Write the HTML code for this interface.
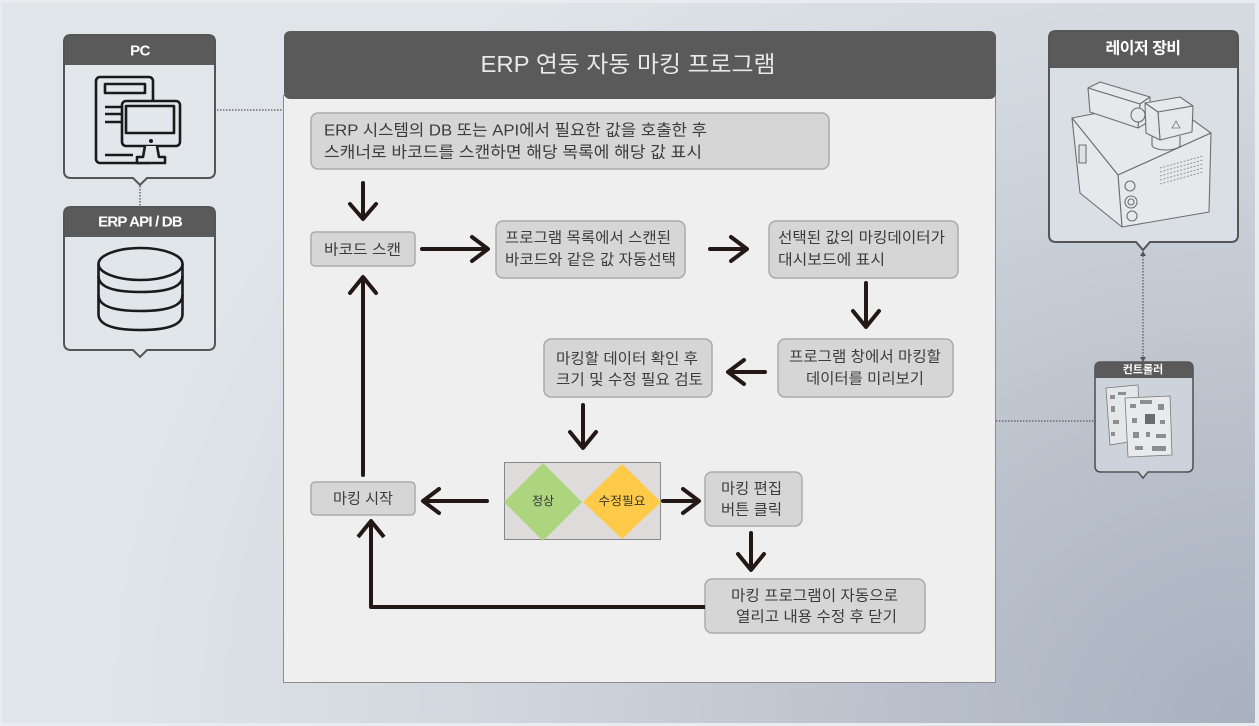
<!DOCTYPE html>
<html><head><meta charset="utf-8">
<style>
html,body{margin:0;padding:0;}
body{width:1259px;height:726px;position:relative;overflow:hidden;background:#e9ecef;}
#bg{position:absolute;left:2px;top:3px;width:1253px;height:720px;
background:radial-gradient(ellipse 1150px 950px at 100% 100%, #a8b1bf 0%, #b9c0cb 30%, #d0d6dd 65%, #dfe5e9 100%);}
svg{position:absolute;left:0;top:0;}
text{font-family:"Liberation Sans","Noto Sans CJK KR",sans-serif;}
</style></head>
<body>
<div id="bg"></div>
<svg width="1259" height="726" viewBox="0 0 1259 726" xmlns="http://www.w3.org/2000/svg">
<!-- dotted connectors -->
<g stroke="#6a6a6a" stroke-width="1.5" stroke-dasharray="1.5 1.5" fill="none">
  <line x1="217" y1="110" x2="283" y2="110"/>
  <line x1="140" y1="186" x2="140" y2="207"/>
  <line x1="1143" y1="253" x2="1143" y2="360"/>
  <line x1="996" y1="421" x2="1095" y2="421"/>
</g>
<path d="M1140,256 L1143,251 L1146,256 Z M1140,357 L1143,362 L1146,357 Z" fill="#555"/>

<!-- PC card -->
<path d="M71,35 H208 Q215,35 215,42 V171 Q215,178 208,178 H147 L140,185 L133,178 H71 Q64,178 64,171 V42 Q64,35 71,35 Z" fill="#e1e7eb"/>
<path d="M64,42 Q64,35 71,35 H208 Q215,35 215,42 V65 H64 Z" fill="#5a5a5a"/>
<path d="M71,35 H208 Q215,35 215,42 V171 Q215,178 208,178 H147 L140,185 L133,178 H71 Q64,178 64,171 V42 Q64,35 71,35 Z" fill="none" stroke="#555" stroke-width="2"/>
<text x="140" y="51" text-anchor="middle" dominant-baseline="central" font-size="15" font-weight="bold" fill="#fff" letter-spacing="-0.5">PC</text>
<!-- PC icon -->
<g stroke="#1a1a1a" stroke-width="2.6" fill="none" stroke-linejoin="round">
  <rect x="96" y="77" width="57" height="86" rx="4"/>
  <rect x="105" y="84" width="40" height="9"/>
  <line x1="105" y1="107" x2="122" y2="107"/>
  <line x1="105" y1="114" x2="122" y2="114"/>
  <line x1="105" y1="122" x2="122" y2="122"/>
  <line x1="105" y1="155" x2="133" y2="155"/>
  <rect x="122" y="101" width="58" height="45" rx="4" fill="#e1e7eb"/>
  <rect x="126" y="106" width="48" height="27"/>
  <path d="M145,146 L143,157 L137,157 L137,163 L165,163 L165,157 L159,157 L157,146" fill="#e1e7eb"/>
</g>
<circle cx="151" cy="141" r="2" fill="#1a1a1a"/>

<!-- ERP API / DB card -->
<path d="M71,207 H208 Q215,207 215,214 V343 Q215,350 208,350 H147 L140,357 L133,350 H71 Q64,350 64,343 V214 Q64,207 71,207 Z" fill="#e0e6ea"/>
<path d="M64,214 Q64,207 71,207 H208 Q215,207 215,214 V237 H64 Z" fill="#5a5a5a"/>
<path d="M71,207 H208 Q215,207 215,214 V343 Q215,350 208,350 H147 L140,357 L133,350 H71 Q64,350 64,343 V214 Q64,207 71,207 Z" fill="none" stroke="#555" stroke-width="2"/>
<text x="140" y="222" text-anchor="middle" dominant-baseline="central" font-size="15" font-weight="bold" fill="#fff" letter-spacing="-0.8">ERP API / DB</text>
<!-- DB icon -->
<g stroke="#1a1a1a" stroke-width="2.6" fill="none">
  <ellipse cx="140.5" cy="264" rx="42" ry="16"/>
  <path d="M98.5,264 V314 Q98.5,330 140.5,330 Q182.5,330 182.5,314 V264"/>
  <path d="M98.5,276 Q98.5,292 140.5,292 Q182.5,292 182.5,276"/>
  <path d="M98.5,295 Q98.5,311 140.5,311 Q182.5,311 182.5,295"/>
</g>

<!-- Laser card -->
<path d="M1056,31 H1231 Q1238,31 1238,38 V235 Q1238,242 1231,242 H1150 L1143,250 L1136,242 H1056 Q1049,242 1049,235 V38 Q1049,31 1056,31 Z" fill="#d9dfe4"/>
<path d="M1049,38 Q1049,31 1056,31 H1231 Q1238,31 1238,38 V68 H1049 Z" fill="#5a5a5a"/>
<path d="M1056,31 H1231 Q1238,31 1238,38 V235 Q1238,242 1231,242 H1150 L1143,250 L1136,242 H1056 Q1049,242 1049,235 V38 Q1049,31 1056,31 Z" fill="none" stroke="#555" stroke-width="2"/>
<text x="1143" y="49" text-anchor="middle" dominant-baseline="central" font-size="16" font-weight="bold" fill="#fff" letter-spacing="-0.5">레이저 장비</text>
<!-- Laser device drawing -->
<g stroke="#6e6e6e" stroke-width="1.1" fill="#e6e9ec" stroke-linejoin="round">
  <polygon points="1072,118 1165,100 1211,133 1118,175"/>
  <polygon points="1118,175 1211,133 1209,212 1122,227"/>
  <polygon points="1072,118 1118,175 1122,227 1080,193"/>
  <rect x="1079" y="145" width="7" height="18" fill="#dfe2e5"/>
  <circle cx="1130" cy="186" r="5"/>
  <circle cx="1131" cy="202" r="6"/>
  <circle cx="1131" cy="202" r="3"/>
  <circle cx="1132" cy="216" r="5"/>
  <polygon points="1088,88 1100,82 1150,97 1140,104"/>
  <polygon points="1088,88 1140,104 1138,128 1090,112"/>
  <polygon points="1140,104 1150,97 1150,121 1138,128"/>
  <ellipse cx="1166" cy="145" rx="14" ry="5"/>
  <rect x="1152" y="136" width="28" height="9" fill="#e6e9ec" stroke-width="0"/>
  <line x1="1152" y1="136" x2="1152" y2="145"/>
  <line x1="1180" y1="136" x2="1180" y2="145"/>
  <polygon points="1145,103 1180,97 1193,106 1158,112"/>
  <polygon points="1158,112 1193,106 1192,132 1160,140"/>
  <polygon points="1145,103 1158,112 1160,140 1146,133"/>
  <circle cx="1138" cy="115" r="7"/>
</g>
<g stroke="#8a8a8a" stroke-width="0.9" stroke-dasharray="2 1.5">
  <line x1="1160" y1="168" x2="1203" y2="156"/>
  <line x1="1160" y1="172" x2="1203" y2="160"/>
  <line x1="1160" y1="176" x2="1203" y2="164"/>
  <line x1="1160" y1="180" x2="1203" y2="168"/>
  <line x1="1160" y1="184" x2="1203" y2="172"/>
</g>
<polygon points="1176,121 1180,128 1172,128" fill="none" stroke="#777" stroke-width="0.8"/>

<!-- Controller card -->
<path d="M1101,362 H1187 Q1193,362 1193,368 V466 Q1193,472 1187,472 H1148 L1143,478 L1138,472 H1101 Q1095,472 1095,466 V368 Q1095,362 1101,362 Z" fill="#cdd3da"/>
<path d="M1095,368 Q1095,362 1101,362 H1187 Q1193,362 1193,368 V378 H1095 Z" fill="#5a5a5a"/>
<path d="M1101,362 H1187 Q1193,362 1193,368 V466 Q1193,472 1187,472 H1148 L1143,478 L1138,472 H1101 Q1095,472 1095,466 V368 Q1095,362 1101,362 Z" fill="none" stroke="#555" stroke-width="1.6"/>
<text x="1143" y="370" text-anchor="middle" dominant-baseline="central" font-size="11" font-weight="bold" fill="#fff">컨트롤러</text>
<g stroke="#7a7a7a" stroke-width="0.8">
  <polygon points="1106,388 1138,385 1140,440 1110,445" fill="#e4e6e8"/>
  <polygon points="1125,398 1170,396 1172,455 1128,457" fill="#e8eaec"/>
</g>
<g fill="#8e8e8e">
  <rect x="1110" y="395" width="5" height="4"/><rect x="1118" y="392" width="8" height="3"/>
  <rect x="1111" y="406" width="4" height="6"/><rect x="1113" y="420" width="6" height="4"/>
  <rect x="1111" y="432" width="4" height="4"/><rect x="1130" y="404" width="6" height="4"/>
  <rect x="1140" y="400" width="12" height="4"/><rect x="1158" y="404" width="6" height="6"/>
  <rect x="1145" y="414" width="10" height="10" fill="#6c6c6c"/><rect x="1132" y="418" width="5" height="5"/>
  <rect x="1160" y="420" width="5" height="4"/><rect x="1133" y="432" width="6" height="6"/>
  <rect x="1146" y="432" width="4" height="5"/><rect x="1156" y="434" width="10" height="4"/>
  <rect x="1135" y="446" width="8" height="4"/><rect x="1152" y="446" width="14" height="5"/>
</g>

<!-- Main panel -->
<rect x="283.5" y="95.5" width="712" height="587" fill="#efefef" stroke="#8c8c8c" stroke-width="1"/>
<rect x="284" y="31" width="712" height="68" rx="6" fill="#5a5a5a"/>
<text x="628" y="64" text-anchor="middle" dominant-baseline="central" font-size="23" fill="#e8e8e8" textLength="295" lengthAdjust="spacingAndGlyphs">ERP 연동 자동 마킹 프로그램</text>

<!-- Boxes -->
<g fill="#d6d6d6" stroke="#ababab" stroke-width="1.5">
  <rect x="311" y="113" width="518" height="56" rx="7"/>
  <rect x="311" y="232" width="104" height="34" rx="4"/>
  <rect x="496" y="221" width="189" height="57" rx="7"/>
  <rect x="769" y="221" width="189" height="57" rx="7"/>
  <rect x="778" y="339" width="175" height="58" rx="7"/>
  <rect x="544" y="339" width="168" height="58" rx="7"/>
  <rect x="705" y="472" width="97" height="54" rx="7"/>
  <rect x="705" y="579" width="220" height="54" rx="7"/>
  <rect x="311" y="482" width="104" height="33" rx="4"/>
</g>

<!-- Decision -->
<rect x="504.5" y="462.5" width="156" height="77" fill="#dedbda" stroke="#888" stroke-width="1"/>
<polygon points="504,502 543,463 582,502 543,541" fill="#add580"/>
<polygon points="583,502 622,464 661,502 622,539" fill="#ffca48"/>

<g font-size="15" fill="#3c3c3c" dominant-baseline="central">
  <text x="324" y="131" font-size="16" textLength="383" lengthAdjust="spacingAndGlyphs">ERP 시스템의 DB 또는 API에서 필요한 값을 호출한 후</text>
  <text x="324" y="153" font-size="16" textLength="378" lengthAdjust="spacingAndGlyphs">스캐너로 바코드를 스캔하면 해당 목록에 해당 값 표시</text>
  <text x="324" y="250" textLength="77" lengthAdjust="spacingAndGlyphs">바코드 스캔</text>
  <text x="505" y="238" textLength="166" lengthAdjust="spacingAndGlyphs">프로그램 목록에서 스캔된</text>
  <text x="505" y="260" textLength="171" lengthAdjust="spacingAndGlyphs">바코드와 같은 값 자동선택</text>
  <text x="778" y="238" textLength="167" lengthAdjust="spacingAndGlyphs">선택된 값의 마킹데이터가</text>
  <text x="778" y="260" textLength="107" lengthAdjust="spacingAndGlyphs">대시보드에  표시</text>
  <text x="789" y="357" textLength="152" lengthAdjust="spacingAndGlyphs">프로그램 창에서 마킹할</text>
  <text x="806" y="379" textLength="118" lengthAdjust="spacingAndGlyphs">데이터를 미리보기</text>
  <text x="556" y="359" textLength="142" lengthAdjust="spacingAndGlyphs">마킹할 데이터 확인 후</text>
  <text x="556" y="380" textLength="147" lengthAdjust="spacingAndGlyphs">크기 및 수정 필요 검토</text>
  <text x="721" y="489" textLength="61" lengthAdjust="spacingAndGlyphs">마킹 편집</text>
  <text x="721" y="510" textLength="61" lengthAdjust="spacingAndGlyphs">버튼 클릭</text>
  <text x="731" y="596" textLength="167" lengthAdjust="spacingAndGlyphs">마킹 프로그램이 자동으로</text>
  <text x="736" y="617" textLength="161" lengthAdjust="spacingAndGlyphs">열리고 내용 수정 후 닫기</text>
  <text x="333" y="499" textLength="60" lengthAdjust="spacingAndGlyphs">마킹 시작</text>
  <text x="543" y="501" font-size="12" text-anchor="middle" fill="#333">정상</text>
  <text x="622" y="501" font-size="12" text-anchor="middle" fill="#333" textLength="47" lengthAdjust="spacingAndGlyphs">수정필요</text>
</g>

<!-- Arrows -->
<g stroke="#231815" stroke-width="4" fill="none" stroke-linejoin="round" stroke-linecap="round">
  <path d="M363,183 V218 M350,204 L363,219 L376,204"/>
  <path d="M422,249 H486 M472,237 L488,249 L472,261"/>
  <path d="M710,249 H745 M731,237 L747,249 L731,261"/>
  <path d="M866,283 V325 M853,311 L866,327 L879,311"/>
  <path d="M765,372 H730 M744,360 L728,372 L744,384"/>
  <path d="M583,405 V446 M570,432 L583,448 L596,432"/>
  <path d="M663,501 H697 M683,489 L699,501 L683,513"/>
  <path d="M487,501 H425 M439,489 L423,501 L439,513"/>
  <path d="M751,533 V568 M738,554 L751,570 L764,554"/>
  <path d="M705,607 H371 V523 M358,537 L371,521 L384,537" stroke-linecap="butt"/>
  <path d="M363,475 V279 M350,293 L363,277 L376,293"/>
</g>
</svg>
</body></html>
